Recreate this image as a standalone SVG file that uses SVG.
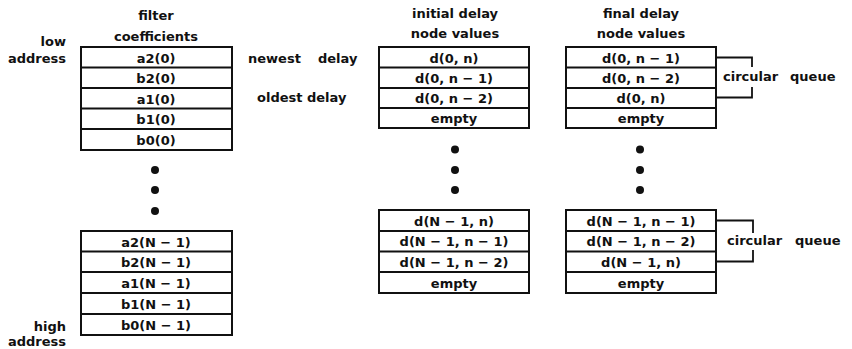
<svg xmlns="http://www.w3.org/2000/svg" width="852" height="349" viewBox="0 0 852 349">
<style>
text{font-family:"DejaVu Sans","Liberation Sans",sans-serif;font-weight:bold;font-size:13px;fill:#111}
.c{text-anchor:middle}
.r{text-anchor:end}
.cell{fill:#fff;stroke:#111;stroke-width:2}
.div{stroke:#111;stroke-width:1.8}
.br{fill:none;stroke:#111;stroke-width:1.8}
.dot{fill:#111}
</style>
<rect width="852" height="349" fill="#fff"/>

<!-- headers and side labels -->
<g id="labels">
<text class="c" x="156" y="20">filter</text>
<text class="c" x="156" y="41">coefficients</text>
<text class="c" x="455" y="18">initial delay</text>
<text class="c" x="455" y="38">node values</text>
<text class="c" x="641" y="18">final delay</text>
<text class="c" x="641" y="38">node values</text>
<text class="r" x="66" y="46">low</text>
<text class="r" x="66" y="63">address</text>
<text class="r" x="66" y="331">high</text>
<text class="r" x="66" y="346">address</text>
<text x="248" y="63">newest<tspan x="318">delay</tspan></text>
<text x="257" y="102">oldest delay</text>
</g>

<!-- filter coefficients, top -->
<g id="coef-top">
<rect class="cell" x="81" y="47" width="151" height="103"/>
<line class="div" x1="81" y1="67.5" x2="232" y2="67.5"/>
<line class="div" x1="81" y1="88" x2="232" y2="88"/>
<line class="div" x1="81" y1="108.5" x2="232" y2="108.5"/>
<line class="div" x1="81" y1="129" x2="232" y2="129"/>
<text class="c" x="156" y="62.5">a2(0)</text>
<text class="c" x="156" y="83">b2(0)</text>
<text class="c" x="156" y="103.5">a1(0)</text>
<text class="c" x="156" y="124">b1(0)</text>
<text class="c" x="156" y="144.5">b0(0)</text>
</g>

<g id="coef-dots">
<circle class="dot" cx="155" cy="170" r="4"/>
<circle class="dot" cx="155" cy="190" r="4"/>
<circle class="dot" cx="155" cy="211" r="4"/>
</g>

<!-- filter coefficients, bottom -->
<g id="coef-bottom">
<rect class="cell" x="81" y="231" width="151" height="104"/>
<line class="div" x1="81" y1="251.5" x2="232" y2="251.5"/>
<line class="div" x1="81" y1="272" x2="232" y2="272"/>
<line class="div" x1="81" y1="293" x2="232" y2="293"/>
<line class="div" x1="81" y1="314" x2="232" y2="314"/>
<text class="c" x="156" y="246.5">a2(N − 1)</text>
<text class="c" x="156" y="267">b2(N − 1)</text>
<text class="c" x="156" y="287.5">a1(N − 1)</text>
<text class="c" x="156" y="308.5">b1(N − 1)</text>
<text class="c" x="156" y="329.5">b0(N − 1)</text>
</g>

<!-- initial delay, top -->
<g id="init-top">
<rect class="cell" x="379" y="47" width="150" height="81"/>
<line class="div" x1="379" y1="67.5" x2="529" y2="67.5"/>
<line class="div" x1="379" y1="88" x2="529" y2="88"/>
<line class="div" x1="379" y1="108" x2="529" y2="108"/>
<text class="c" x="454" y="62.5">d(0, n)</text>
<text class="c" x="454" y="83">d(0, n − 1)</text>
<text class="c" x="454" y="103">d(0, n − 2)</text>
<text class="c" x="454" y="123">empty</text>
</g>

<g id="init-dots">
<circle class="dot" cx="455" cy="149.5" r="4"/>
<circle class="dot" cx="455" cy="170" r="4"/>
<circle class="dot" cx="455" cy="190" r="4"/>
</g>

<!-- initial delay, bottom -->
<g id="init-bottom">
<rect class="cell" x="379" y="210" width="150" height="83"/>
<line class="div" x1="379" y1="231" x2="529" y2="231"/>
<line class="div" x1="379" y1="251.5" x2="529" y2="251.5"/>
<line class="div" x1="379" y1="272" x2="529" y2="272"/>
<text class="c" x="454" y="225.5">d(N − 1, n)</text>
<text class="c" x="454" y="246">d(N − 1, n − 1)</text>
<text class="c" x="454" y="266.5">d(N − 1, n − 2)</text>
<text class="c" x="454" y="287.5">empty</text>
</g>

<!-- final delay, top -->
<g id="final-top">
<rect class="cell" x="566" y="47" width="150" height="81"/>
<line class="div" x1="566" y1="67.5" x2="716" y2="67.5"/>
<line class="div" x1="566" y1="88" x2="716" y2="88"/>
<line class="div" x1="566" y1="108" x2="716" y2="108"/>
<text class="c" x="641" y="62.5">d(0, n − 1)</text>
<text class="c" x="641" y="83">d(0, n − 2)</text>
<text class="c" x="641" y="103">d(0, n)</text>
<text class="c" x="641" y="123">empty</text>
</g>

<g id="final-dots">
<circle class="dot" cx="640" cy="149.5" r="4"/>
<circle class="dot" cx="640" cy="170" r="4"/>
<circle class="dot" cx="640" cy="190" r="4"/>
</g>

<!-- final delay, bottom -->
<g id="final-bottom">
<rect class="cell" x="566" y="210" width="150" height="83"/>
<line class="div" x1="566" y1="231" x2="716" y2="231"/>
<line class="div" x1="566" y1="251.5" x2="716" y2="251.5"/>
<line class="div" x1="566" y1="272" x2="716" y2="272"/>
<text class="c" x="641" y="225.5">d(N − 1, n − 1)</text>
<text class="c" x="641" y="246">d(N − 1, n − 2)</text>
<text class="c" x="641" y="266.5">d(N − 1, n)</text>
<text class="c" x="641" y="287.5">empty</text>
</g>

<!-- circular queue brackets -->
<g id="connectors">
<path class="br" d="M717 57.5 H752 V67"/>
<path class="br" d="M752 87 V97.5 H717"/>
<path class="br" d="M717 220.5 H753 V233"/>
<path class="br" d="M753 250 V261.5 H717"/>
</g>
<g id="queue-labels">
<text x="723" y="81">circular</text>
<text x="790" y="81">queue</text>
<text x="727" y="245">circular</text>
<text x="795" y="245">queue</text>
</g>
</svg>
